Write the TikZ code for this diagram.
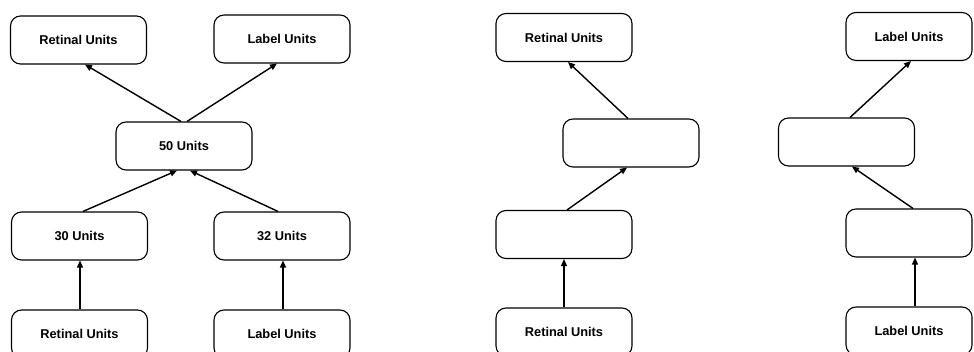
\documentclass[tikz,border=0pt]{standalone}
\usepackage{fontspec}
\setmainfont{Liberation Sans}
\usetikzlibrary{arrows.meta}
% unit label, set a little left of the box centre
\newcommand{\unitlabel}[1]{#1\hspace{9pt}}
\begin{document}
\begin{tikzpicture}[x=1pt,y=-1pt,
  unit/.style={draw, line width=1.1pt, rounded corners=10pt, minimum width=136pt,
    minimum height=48pt, inner sep=0pt, font=\fontsize{12.8}{14}\selectfont\bfseries},
  narrow/.style={unit, minimum width=126pt},
  arr/.style={line width=1.4pt, -{Triangle[length=7pt,width=6pt]}}]
\useasboundingbox (0,0) rectangle (974,352);

% left network: two input pathways merged into a shared hidden layer
\node[unit] (rtL) at (78.5,40) {\unitlabel{Retinal Units}};
\node[unit] (lbT) at (282,39) {\unitlabel{Label Units}};
\node[unit] (fifty) at (184,146) {\unitlabel{50 Units}};
\node[unit] (thirty) at (79.5,236) {\unitlabel{30 Units}};
\node[unit] (thirtytwo) at (282,236) {\unitlabel{32 Units}};
\node[unit] (rB) at (79.5,334) {\unitlabel{Retinal Units}};
\node[unit] (lB) at (282,334) {\unitlabel{Label Units}};

\draw[arr] ([xshift=-3pt]fifty.north) -- ([xshift=6.5pt]rtL.south);
\draw[arr] ([xshift=3pt]fifty.north) -- ([xshift=-5pt]lbT.south);
\draw[arr] ([xshift=3.5pt]thirty.north) -- ([xshift=-7pt]fifty.south);
\draw[arr] ([xshift=-4pt]thirtytwo.north) -- ([xshift=6pt]fifty.south);
\draw[arr] ([xshift=0.5pt]rB.north) -- ([xshift=0.5pt]thirty.south);
\draw[arr] ([xshift=1pt]lB.north) -- ([xshift=1pt]thirtytwo.south);

% right networks: separate auto-encoders for each input
\node[unit] (rtR) at (564,37.5) {\unitlabel{Retinal Units}};
\node[unit] (mL) at (631,143) {};
\node[unit] (llL) at (564,234.5) {};
\node[unit] (rBR) at (564,332) {\unitlabel{Retinal Units}};

\node[narrow] (lR) at (909,36.5) {Label Units};
\node[unit] (mR) at (846.5,142) {};
\node[narrow] (llR) at (909,233) {};
\node[narrow] (lBR) at (909,331) {Label Units};

\draw[arr] ([xshift=-3pt]mL.north) -- ([xshift=4pt]rtR.south);
\draw[arr] ([xshift=3pt]llL.north) -- ([xshift=-4pt]mL.south);
\draw[arr] (rBR.north) -- (llL.south);
\draw[arr] ([xshift=3.5pt]mR.north) -- ([xshift=2pt]lR.south);
\draw[arr] ([xshift=4pt]llR.north) -- ([xshift=5.5pt]mR.south);
\draw[arr] ([xshift=6pt]lBR.north) -- ([xshift=6pt]llR.south);
\end{tikzpicture}
\end{document}
